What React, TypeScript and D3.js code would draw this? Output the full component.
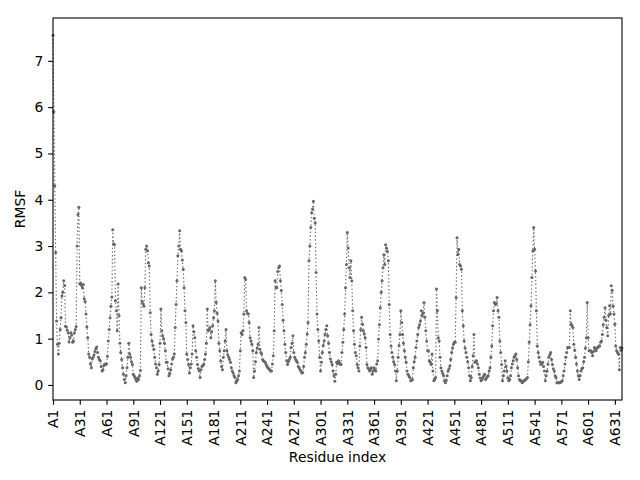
import { useEffect, useRef } from "react";
import { select, scaleLinear, axisLeft, axisBottom, line, extent } from "d3";

// RMSF per residue
const rmsf: number[] = [
  7.55, 5.9, 4.3, 2.86, 1.38, 0.88, 0.67, 0.9, 1.2, 1.45,
  1.92, 2.0, 2.25, 2.15, 1.27, 1.25, 1.18, 1.12, 0.93, 1.02,
  1.13, 1.08, 0.92, 0.95, 1.13, 1.2, 1.26, 3.0, 3.68, 3.84,
  2.18, 2.2, 2.15, 2.1, 2.17, 1.86, 1.8, 1.53, 1.25, 1.02,
  0.67, 0.6, 0.45, 0.37, 0.56, 0.6, 0.65, 0.72, 0.78, 0.82,
  0.7, 0.6, 0.55, 0.52, 0.4, 0.3, 0.33, 0.42, 0.45, 0.44,
  0.45, 0.62, 0.95, 1.2, 1.45, 1.7, 1.9, 3.35, 3.05, 3.03,
  1.82, 1.6, 1.17, 2.18, 1.5, 0.9, 0.7, 0.55, 0.37, 0.23,
  0.12, 0.05, 0.2, 0.37, 0.6, 0.9, 0.67, 0.6, 0.5, 0.44,
  0.23, 0.2, 0.16, 0.12, 0.08, 0.15, 0.12, 0.2, 0.31, 2.1,
  1.8, 1.75, 1.7, 2.1, 2.93, 3.0, 2.9, 2.64, 2.57, 1.56,
  1.09, 0.95, 0.85, 0.77, 0.6, 0.45, 0.37, 0.23, 0.3, 0.44,
  0.9, 1.64, 1.17, 1.06, 1.0, 0.9, 0.74, 0.49, 0.49, 0.35,
  0.2, 0.25, 0.33, 0.45, 0.56, 0.6, 0.67, 1.24, 1.74, 2.25,
  2.79, 3.0, 3.33, 2.93, 2.9, 2.7, 2.5, 2.1, 1.6, 1.35,
  0.67, 0.55, 0.44, 0.26, 0.37, 0.45, 0.67, 1.28, 1.15, 1.02,
  0.74, 0.6, 0.44, 0.35, 0.3, 0.16, 0.33, 0.4, 0.42, 0.44,
  0.55, 0.67, 0.9, 1.64, 1.17, 1.2, 1.24, 1.02, 1.15, 1.28,
  1.45, 1.6, 2.25, 1.78, 1.55, 1.38, 0.9, 0.74, 0.52, 0.4,
  0.33, 0.6, 0.74, 0.95, 1.2, 0.74, 0.65, 0.6, 0.55, 0.49,
  0.37, 0.3, 0.26, 0.2, 0.16, 0.05, 0.08, 0.12, 0.2, 0.3,
  0.74, 1.13, 1.09, 1.17, 1.53, 2.32, 2.28, 1.6, 1.55, 1.53,
  1.35, 1.02, 0.95, 0.88, 0.74, 0.16, 0.3, 0.5, 0.7, 0.8,
  0.88, 1.24, 0.77, 0.7, 0.67, 0.55, 0.52, 0.5, 0.49, 0.44,
  0.4, 0.37, 0.35, 0.33, 0.3, 0.3, 0.45, 0.63, 1.17, 2.25,
  2.1, 2.1, 2.45, 2.53, 2.57, 2.25, 2.04, 1.74, 1.4, 1.17,
  0.88, 0.7, 0.52, 0.44, 0.5, 0.55, 0.6, 0.81, 0.9, 1.06,
  0.7, 0.6, 0.55, 0.52, 0.49, 0.4, 0.37, 0.33, 0.3, 0.26,
  0.27, 0.4, 0.6, 0.7, 0.88, 1.1, 1.35, 2.68, 3.0, 3.4,
  3.72, 3.8, 3.97, 3.6, 3.5, 2.43, 1.53, 1.2, 0.95, 0.6,
  0.3, 0.49, 0.7, 0.85, 0.95, 1.09, 1.2, 1.28, 1.06, 0.9,
  0.7, 0.56, 0.5, 0.44, 0.3, 0.2, 0.08, 0.23, 0.49, 0.45,
  0.52, 0.49, 0.45, 0.44, 0.7, 0.92, 1.2, 1.53, 2.1, 2.6,
  3.29, 2.96, 2.53, 2.32, 2.68, 2.25, 1.6, 1.17, 0.88, 0.7,
  0.63, 0.44, 0.37, 0.3, 0.84, 1.2, 1.46, 1.31, 1.17, 1.1,
  1.02, 0.81, 0.44, 0.37, 0.35, 0.3, 0.33, 0.37, 0.23, 0.3,
  0.37, 0.33, 0.3, 0.45, 0.52, 0.99, 1.3, 1.67, 2.0, 2.25,
  2.53, 2.81, 2.6, 3.03, 2.95, 2.88, 2.68, 1.74, 1.09, 0.84,
  0.7, 0.6, 0.5, 0.44, 0.3, 0.09, 0.3, 0.6, 0.85, 1.09,
  1.6, 1.35, 1.09, 0.9, 0.74, 0.6, 0.49, 0.3, 0.23, 0.2,
  0.16, 0.09, 0.1, 0.12, 0.37, 0.5, 0.6, 0.81, 0.95, 1.09,
  1.24, 1.3, 1.38, 1.6, 1.49, 1.55, 1.78, 1.46, 1.17, 0.95,
  0.74, 0.74, 0.52, 0.49, 0.44, 0.67, 0.3, 0.09, 0.12, 0.16,
  2.07, 1.6, 1.02, 0.95, 0.6, 0.37, 0.3, 0.25, 0.2, 0.09,
  0.05, 0.1, 0.2, 0.3, 0.35, 0.41, 0.55, 0.7, 0.8, 0.88,
  0.92, 0.92, 1.89, 3.18, 2.82, 2.93, 2.6, 2.57, 2.5, 1.6,
  1.28, 0.95, 0.8, 0.7, 0.6, 0.5, 0.37, 0.2, 0.09, 0.16,
  0.4, 0.63, 1.09, 0.49, 0.5, 0.52, 0.45, 0.37, 0.23, 0.15,
  0.09, 0.12, 0.16, 0.2, 0.23, 0.12, 0.15, 0.18, 0.2, 0.3,
  0.37, 0.6, 0.84, 1.28, 1.6, 1.78, 1.74, 1.76, 1.89, 1.6,
  1.46, 0.95, 0.7, 0.44, 0.09, 0.2, 0.3, 0.52, 0.4, 0.3,
  0.15, 0.09, 0.12, 0.2, 0.37, 0.45, 0.52, 0.6, 0.63, 0.67,
  0.55, 0.37, 0.2, 0.12, 0.09, 0.09, 0.05, 0.07, 0.09, 0.1,
  0.12, 0.14, 0.16, 0.5, 0.92, 1.3, 1.71, 2.32, 2.9, 3.4,
  2.93, 2.46, 1.6, 0.84, 0.7, 0.6, 0.5, 0.44, 0.46, 0.49,
  0.4, 0.3, 0.09, 0.2, 0.3, 0.45, 0.6, 0.65, 0.7, 0.55,
  0.44, 0.35, 0.3, 0.2, 0.16, 0.05, 0.05, 0.05, 0.05, 0.06,
  0.07, 0.09, 0.2, 0.3, 0.45, 0.6, 0.7, 0.81, 0.81, 0.81,
  1.6, 1.31, 1.28, 1.24, 0.88, 0.75, 0.6, 0.45, 0.3, 0.2,
  0.12, 0.2, 0.3, 0.35, 0.37, 0.5, 0.6, 0.8, 1.02, 1.78,
  1.02, 0.74, 0.74, 0.74, 0.7, 0.63, 0.72, 0.81, 0.77, 0.74,
  0.8, 0.81, 0.84, 0.84, 0.92, 0.95, 1.09, 1.3, 1.46, 1.67,
  1.4, 1.24, 1.06, 1.5, 1.71, 1.53, 2.14, 2.04, 1.7, 1.53,
  1.31, 0.84, 0.74, 0.7, 0.67, 0.33, 0.81, 0.75, 0.8,
];

const xTickLabels = [
  "A1", "A31", "A61", "A91", "A121", "A151", "A181", "A211", "A241", "A271", "A301",
  "A331", "A361", "A391", "A421", "A451", "A481", "A511", "A541", "A571", "A601", "A631",
];
const yTicks = [0, 1, 2, 3, 4, 5, 6, 7];

const W = 640;
const H = 480;
const margin = { left: 53, right: 18, top: 18, bottom: 80 };
const FONT = "DejaVu Sans, sans-serif";
const GREY = "#666666";

const App: React.FC = () => {
  const xAxisRef = useRef<SVGGElement>(null);
  const yAxisRef = useRef<SVGGElement>(null);

  const x = scaleLinear()
    .domain([0, rmsf.length - 1])
    .range([margin.left, W - margin.right]);

  // matplotlib-like 5% padding
  const [lo, hi] = extent(rmsf) as [number, number];
  const pad = (hi - lo) * 0.05;
  const y = scaleLinear()
    .domain([lo - pad, hi + pad])
    .range([H - margin.bottom, margin.top]);

  const rmsfLine: any = line<number>()
    .x((_, i) => x(i))
    .y((d) => y(d));

  useEffect(() => {
    const tickIdx = xTickLabels.map((l) => +l.slice(1) - 1);
    const xAxis: any = axisBottom(x)
      .tickValues(tickIdx)
      .tickFormat((d: any) => "A" + (d + 1))
      .tickSize(4.86)
      .tickPadding(4.86);
    const gx = select(xAxisRef.current);
    gx.call(xAxis);
    gx.select(".domain").remove();
    gx.selectAll("text")
      .attr("transform", "rotate(-90)")
      .attr("x", -9.7)
      .attr("y", 0)
      .attr("dy", "0.35em")
      .style("text-anchor", "end");

    const yAxis: any = axisLeft(y).tickValues(yTicks).tickSize(4.86).tickPadding(4.86);
    const gy = select(yAxisRef.current);
    gy.call(yAxis);
    gy.select(".domain").remove();

    [gx, gy].forEach((g: any) => {
      g.attr("font-family", FONT).attr("font-size", 13.9);
      g.selectAll("line").attr("stroke", "#000").attr("stroke-width", 1.1);
      g.selectAll("text").attr("fill", "#000");
    });
  }, []);

  return (
    <svg
      width={W}
      height={H}
      style={{ position: "absolute", left: 0, top: 0, background: "#fff" }}
    >
      <rect width={W} height={H} fill="#fff" />
      <path
        d={rmsfLine(rmsf)}
        fill="none"
        stroke={GREY}
        strokeWidth={1.1}
        strokeDasharray="1.4 2.3"
      />
      {rmsf.map((d, i) => (
        <circle key={i} cx={x(i)} cy={y(d)} r={1.5} fill={GREY} />
      ))}
      <g ref={xAxisRef} transform={`translate(0,${H - margin.bottom})`} />
      <g ref={yAxisRef} transform={`translate(${margin.left},0)`} />
      <rect
        x={margin.left}
        y={margin.top}
        width={W - margin.left - margin.right}
        height={H - margin.top - margin.bottom}
        fill="none"
        stroke="#000"
        strokeWidth={1.1}
      />
      <text
        x={(margin.left + W - margin.right) / 2}
        y={462}
        textAnchor="middle"
        fontFamily={FONT}
        fontSize={13.9}
      >
        Residue index
      </text>
      <text
        transform={`translate(25,${(margin.top + H - margin.bottom) / 2}) rotate(-90)`}
        textAnchor="middle"
        fontFamily={FONT}
        fontSize={13.9}
      >
        RMSF
      </text>
    </svg>
  );
};

export default App;
